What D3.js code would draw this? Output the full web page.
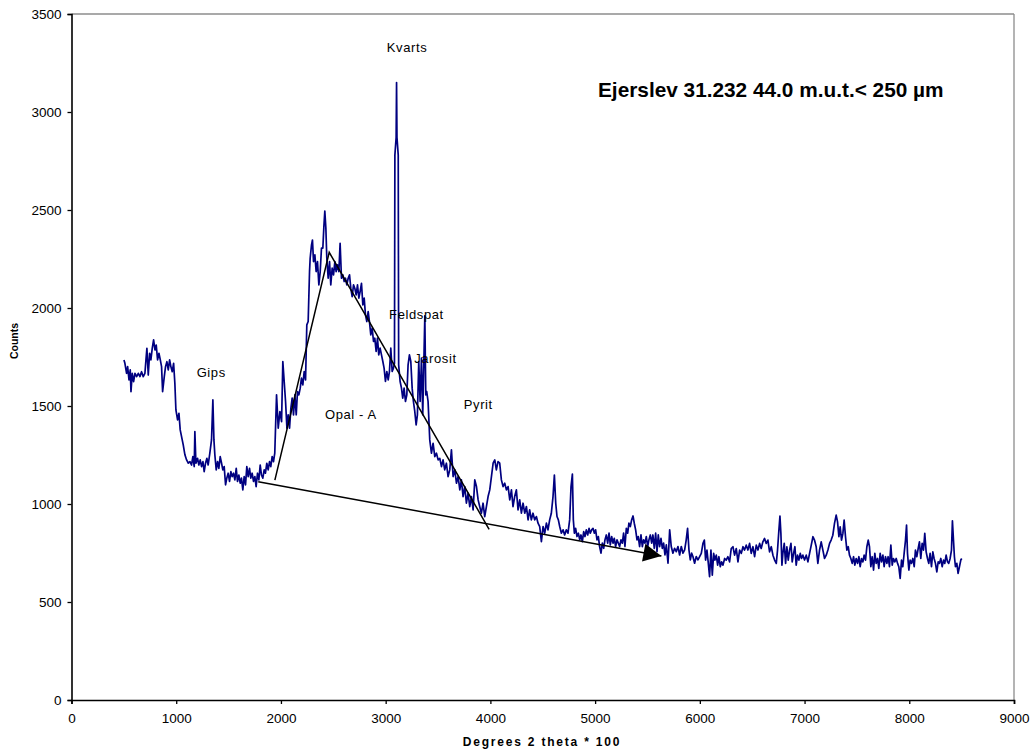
<!DOCTYPE html>
<html>
<head>
<meta charset="utf-8">
<script src="https://cdn.jsdelivr.net/npm/d3@7"></script>
<style>
  body { margin: 0; background: #fff; }
  svg { display: block; font-family: "Liberation Sans", Arial, sans-serif; }
</style>
</head>
<body>
<svg id="chart"></svg>
<script>
// 2theta*100 positions and counts
var twoTheta = [
  501, 510, 526, 536, 549, 561, 568, 580, 593, 606, 622, 638, 654, 669, 685, 701, 711, 720, 733, 746,
  758, 771, 784, 797, 809, 822, 835, 848, 860, 870, 886, 898, 911, 924, 937, 949, 962, 975, 987, 997,
  1013, 1026, 1038, 1051, 1067, 1083, 1099, 1115, 1131, 1146, 1159, 1172, 1178, 1188, 1204, 1216, 1229, 1242, 1255, 1267,
  1280, 1293, 1305, 1321, 1337, 1350, 1360, 1369, 1382, 1395, 1407, 1420, 1433, 1445, 1458, 1471, 1483, 1496, 1509, 1522,
  1534, 1547, 1560, 1573, 1585, 1598, 1611, 1623, 1636, 1649, 1662, 1674, 1687, 1700, 1712, 1725, 1738, 1751, 1763, 1776,
  1789, 1802, 1814, 1827, 1840, 1852, 1865, 1878, 1891, 1903, 1916, 1929, 1941,
  1958, 1974, 1990, 2006, 2018, 2031, 2044, 2057, 2069, 2082, 2095, 2107, 2120, 2133, 2146, 2158, 2171, 2184, 2196, 2209,
  2222, 2235, 2247, 2260, 2273, 2279, 2292, 2301, 2311, 2324, 2336, 2349, 2362, 2375, 2387, 2400, 2410, 2419, 2429, 2438,
  2451, 2464, 2476, 2489, 2502, 2515, 2527, 2540, 2553, 2565, 2578, 2591, 2604, 2616, 2629, 2642, 2655, 2667, 2680, 2693,
  2705, 2718, 2731, 2744, 2756, 2769, 2782, 2795, 2807, 2820, 2833, 2845, 2858, 2871, 2884, 2896, 2909, 2922, 2934, 2947,
  2960, 2973, 2985, 2998, 3011, 3024, 3036, 3049, 3062, 3074, 3084, 3088, 3100, 3104, 3108, 3120, 3124, 3138, 3151, 3163,
  3176, 3189, 3202, 3214, 3227, 3240, 3253, 3265, 3278, 3291, 3303, 3316, 3329, 3342, 3354, 3364, 3374, 3383, 3392, 3405,
  3421, 3437, 3453, 3469, 3485, 3501, 3517, 3533, 3548, 3564, 3580, 3596, 3612, 3628, 3644, 3660, 3676, 3692, 3708, 3723,
  3739, 3755, 3771, 3787, 3803, 3819, 3835, 3851, 3867, 3883, 3898, 3914, 3930, 3946, 3962, 3978, 3994, 4010, 4026, 4042,
  4057, 4073,
  4089, 4105, 4121, 4137, 4153, 4169, 4185, 4201, 4216, 4232, 4248, 4264, 4280, 4296, 4312, 4328, 4344, 4360, 4375, 4391,
  4407, 4423, 4439, 4455, 4471, 4487, 4503, 4519, 4535, 4550, 4566, 4582, 4598, 4611, 4624, 4636, 4649, 4662, 4678, 4694,
  4709, 4725, 4741, 4757, 4770, 4783, 4792, 4802, 4814, 4827, 4840, 4853, 4865, 4878, 4891, 4903, 4916, 4929, 4942, 4954,
  4967, 4980, 4993, 5005, 5018, 5031, 5043, 5056, 5069, 5082, 5094, 5107, 5120, 5133, 5145, 5158, 5171, 5183, 5196, 5209,
  5222, 5234, 5247, 5260, 5272, 5285, 5298, 5311, 5323, 5336, 5349, 5362, 5374, 5387, 5400, 5412, 5425, 5438, 5451, 5463,
  5476, 5489, 5502, 5514, 5527, 5540, 5552, 5565, 5578, 5591, 5603, 5616, 5629, 5642, 5654, 5667, 5680, 5696, 5712, 5727,
  5743, 5759, 5775, 5791, 5807, 5823, 5839, 5855, 5870, 5883, 5896, 5909, 5922, 5934, 5950, 5966, 5982, 5998,
  6014, 6030, 6043, 6055, 6068, 6081, 6093, 6106, 6119, 6132, 6144, 6157, 6170, 6182, 6195, 6208, 6221, 6237, 6252, 6268,
  6284, 6300, 6316, 6332, 6348, 6364, 6380, 6396, 6412, 6427, 6443, 6459, 6475, 6491, 6507, 6523, 6539, 6555, 6571, 6586,
  6602, 6618, 6634, 6650, 6666, 6682, 6698, 6714, 6730, 6742, 6755, 6765, 6774, 6784, 6793, 6806, 6819, 6831, 6844, 6857,
  6870, 6882, 6895, 6908, 6920, 6933, 6946, 6959, 6971, 6984, 7000, 7016, 7032, 7048, 7064, 7080, 7095, 7111, 7127, 7143,
  7159, 7175, 7191, 7207, 7223, 7239, 7254, 7270, 7286, 7302, 7315, 7328, 7340, 7353, 7366, 7378, 7391, 7404, 7417, 7429,
  7442, 7455, 7468, 7480, 7493, 7506, 7519, 7531, 7544, 7557, 7569, 7582, 7595, 7608, 7620, 7633, 7646, 7659, 7671, 7684,
  7697, 7709, 7722, 7735, 7748, 7760, 7773, 7786, 7798, 7811, 7824, 7837, 7849, 7862, 7875, 7888, 7900, 7913, 7926, 7938,
  7951, 7964, 7974, 7983, 7996, 8008, 8021, 8034, 8047, 8059, 8072, 8085, 8097, 8110, 8123, 8136, 8148, 8161, 8174, 8186,
  8199, 8212, 8225, 8237, 8250, 8263, 8276, 8288, 8301, 8314, 8327, 8339, 8352, 8365, 8377, 8390, 8403, 8412, 8422, 8431,
  8441, 8454, 8466, 8479, 8492, 8501
];
var counts = [
  1735, 1718, 1667, 1701, 1633, 1684, 1573, 1667, 1624, 1667, 1650, 1667, 1650, 1675, 1650, 1667, 1735, 1794, 1658, 1769,
  1735, 1794, 1837, 1786, 1811, 1735, 1769, 1735, 1701, 1573, 1650, 1701, 1726, 1684, 1735, 1701, 1675, 1718, 1616, 1480,
  1429, 1463, 1378, 1344, 1302, 1251, 1225, 1208, 1216, 1199, 1242, 1191, 1370, 1208, 1233, 1199, 1225, 1191, 1216, 1165,
  1208, 1233, 1199, 1259, 1327, 1531, 1327, 1250, 1174, 1216, 1182, 1242, 1208, 1174, 1191, 1098, 1132, 1157, 1115, 1165,
  1140, 1157, 1123, 1182, 1115, 1148, 1106, 1132, 1072, 1140, 1098, 1191, 1140, 1182, 1132, 1157, 1115, 1140, 1089, 1157,
  1123, 1199, 1148, 1132, 1174, 1157, 1208, 1174, 1216, 1191, 1242, 1216, 1259,
  1557, 1387, 1472, 1420, 1727, 1625, 1523, 1387, 1455, 1387, 1489, 1540, 1455, 1557, 1455, 1574, 1557, 1591, 1642, 1608,
  1676, 1633, 1914, 1931, 2186, 2254, 2322, 2347, 2237, 2271, 2186, 2237, 2118, 2186, 2305, 2305, 2415, 2495, 2407, 2254,
  2152, 2237, 2118, 2203, 2169, 2237, 2186, 2220, 2186, 2330, 2152, 2169, 2135, 2152, 2118, 2152, 2169, 2101, 2058, 2118,
  2101, 2067, 2118, 2050, 2084, 2126, 2016, 2050, 1965, 1931, 1982, 1931, 1863, 1897, 1829, 1846, 1778, 1846, 1761, 1795,
  1761, 1727, 1693, 1625, 1676, 1633, 1676, 1795, 1676, 1693, 1718, 2780, 2870, 3150, 2870, 2780, 1710, 1625, 1591, 1540,
  1591, 1523, 1557, 1710, 1761, 1727, 1591, 1523, 1472, 1404, 1455, 1727, 1523, 1744, 1455, 1710, 1960, 1557, 1574, 1523,
  1327, 1259, 1310, 1242, 1259, 1225, 1233, 1191, 1225, 1174, 1208, 1140, 1174, 1276, 1140, 1174, 1106, 1140, 1072, 1123,
  1038, 1089, 1004, 1055, 987, 1038, 970, 1123, 1089, 1021, 987, 953, 1004, 936, 987, 1038, 1072, 1140, 1208, 1225,
  1174, 1216,
  1208, 1123, 1089, 1106, 1072, 1089, 1021, 1072, 987, 1038, 1072, 970, 1021, 953, 1004, 953, 987, 919, 970, 919,
  953, 919, 936, 902, 885, 808, 885, 851, 902, 868, 919, 953, 1038, 1148, 1004, 936, 919, 885, 851, 868,
  842, 868, 851, 919, 1089, 1153, 919, 851, 876, 834, 851, 817, 842, 808, 859, 834, 868, 842, 876, 851,
  868, 876, 851, 868, 817, 834, 783, 749, 800, 774, 817, 842, 800, 851, 791, 834, 800, 825, 783, 817,
  800, 783, 817, 800, 851, 783, 876, 851, 902, 885, 919, 939, 902, 868, 817, 834, 783, 842, 783, 817,
  800, 834, 783, 817, 842, 800, 842, 774, 851, 757, 842, 783, 825, 774, 800, 740, 791, 698, 868, 783,
  749, 774, 757, 783, 740, 783, 749, 766, 817, 876, 766, 715, 749, 732, 698, 732, 715, 731,
  748, 799, 816, 714, 765, 697, 629, 765, 637, 748, 714, 739, 688, 731, 680, 705, 688, 722, 714, 731,
  705, 773, 782, 739, 773, 705, 765, 748, 782, 765, 790, 765, 799, 748, 782, 731, 790, 765, 799, 773,
  807, 824, 799, 816, 756, 782, 739, 714, 697, 765, 867, 938, 850, 688, 748, 799, 697, 782, 714, 765,
  799, 705, 748, 782, 688, 739, 714, 748, 722, 739, 714, 739, 705, 748, 790, 833, 816, 782, 697, 765,
  807, 765, 722, 739, 765, 799, 816, 841, 901, 943, 909, 833, 884, 816, 850, 918, 833, 765, 782, 739,
  722, 697, 731, 688, 722, 697, 731, 680, 722, 705, 739, 714, 782, 816, 782, 680, 731, 663, 748, 697,
  722, 671, 748, 705, 739, 680, 731, 697, 731, 680, 790, 688, 722, 705, 722, 697, 680, 620, 714, 680,
  748, 816, 892, 748, 663, 714, 697, 722, 680, 765, 731, 773, 807, 722, 799, 765, 850, 756, 722, 697,
  748, 680, 756, 722, 697, 654, 705, 697, 722, 680, 714, 697, 739, 705, 697, 722, 765, 914, 816, 731,
  680, 697, 646, 680, 714, 722
];

var yTicks = [0, 500, 1000, 1500, 2000, 2500, 3000, 3500];
var xTicks = [0, 1000, 2000, 3000, 4000, 5000, 6000, 7000, 8000, 9000];

// phase names and where they sit (2theta*100, counts)
var phaseNames = ["Kvarts", "Gips", "Opal - A", "Feldspat", "Jarosit", "Pyrit"];
var phaseX = [3011, 1195, 2420, 3033, 3272, 3746];
var phaseY = [3308, 1649, 1434, 1942, 1721, 1487];

// hand drawn hump outline and background arrow
var humpX = [1942, 2461, 3988];
var humpY = [1122, 2284, 871];
var arrowX = [1783, 5633];
var arrowY = [1114, 735];

var title = "Ejerslev 31.232 44.0 m.u.t.< 250 \u00b5m";

var width = 1035;
var height = 753;
var svg = d3.select("#chart")
            .attr("width", width)
            .attr("height", height);

var x = d3.scaleLinear().domain([0, 9000]).range([71.5, 1014]);
var y = d3.scaleLinear().domain([0, 3500]).range([700, 14]);

// plot area frame (grey top/right)
svg.append("line")
  .attr("x1", x(0)).attr("x2", x(9000))
  .attr("y1", y(3500)).attr("y2", y(3500))
  .attr("stroke", "#8c8c8c").attr("stroke-width", 1.3);
svg.append("line")
  .attr("x1", x(9000)).attr("x2", x(9000))
  .attr("y1", y(3500)).attr("y2", y(0))
  .attr("stroke", "#8c8c8c").attr("stroke-width", 1.3);

var yAxis = svg.append("g")
  .attr("transform", "translate(" + x(0) + ",0)")
  .call(d3.axisLeft(y).tickValues(yTicks).tickSize(4).tickPadding(6).tickFormat(d3.format("d")));

var xAxis = svg.append("g")
  .attr("transform", "translate(0," + y(0) + ")")
  .call(d3.axisBottom(x).tickValues(xTicks).tickSize(4).tickPadding(9).tickFormat(d3.format("d")));

[yAxis, xAxis].forEach(function(g) {
  g.selectAll("path").attr("stroke", "#000").attr("stroke-width", 1.6);
  g.selectAll("line").attr("stroke", "#000").attr("stroke-width", 1.3);
  g.selectAll("text")
    .attr("fill", "#000")
    .style("font-size", "13.5px")
    .style("font-family", "'Liberation Sans', Arial, sans-serif");
});

var points = twoTheta.map(function(t, i) { return [t, counts[i]]; });

var line = d3.line()
  .x(function(d) { return x(d[0]); })
  .y(function(d) { return y(d[1]); });

svg.append("path")
  .datum(points)
  .attr("d", line)
  .attr("fill", "none")
  .attr("stroke", "#000080")
  .attr("stroke-width", 1.7)
  .attr("stroke-linejoin", "round");

// annotation lines
svg.append("defs").append("marker")
  .attr("id", "head")
  .attr("viewBox", "0 0 10 10")
  .attr("refX", 10).attr("refY", 5)
  .attr("markerWidth", 22).attr("markerHeight", 18)
  .attr("markerUnits", "userSpaceOnUse")
  .attr("orient", "auto")
  .append("path")
  .attr("d", "M0,0L10,5L0,10z")
  .attr("fill", "#000");

svg.append("path")
  .datum(humpX.map(function(v, i) { return [v, humpY[i]]; }))
  .attr("d", line)
  .attr("fill", "none")
  .attr("stroke", "#000")
  .attr("stroke-width", 1.5);

svg.append("path")
  .datum(arrowX.map(function(v, i) { return [v, arrowY[i]]; }))
  .attr("d", line)
  .attr("fill", "none")
  .attr("stroke", "#000")
  .attr("stroke-width", 1.5)
  .attr("marker-end", "url(#head)");

svg.selectAll(".phase")
  .data(phaseNames)
  .enter()
  .append("text")
  .attr("class", "phase")
  .attr("x", function(d, i) { return x(phaseX[i]); })
  .attr("y", function(d, i) { return y(phaseY[i]); })
  .style("font-size", "13px")
  .style("letter-spacing", "0.6px")
  .attr("fill", "#000")
  .text(function(d) { return d; });

svg.append("text")
  .attr("x", 598)
  .attr("y", 97)
  .style("font-size", "20.8px")
  .style("font-weight", "bold")
  .text(title);

svg.append("text")
  .attr("transform", "translate(18,341) rotate(-90)")
  .attr("text-anchor", "middle")
  .style("font-size", "10.5px")
  .style("font-weight", "bold")
  .text("Counts");

svg.append("text")
  .attr("x", 542)
  .attr("y", 746)
  .attr("text-anchor", "middle")
  .style("font-size", "12px")
  .style("font-weight", "bold")
  .style("letter-spacing", "1.8px")
  .text("Degrees 2 theta * 100");
</script>
</body>
</html>
